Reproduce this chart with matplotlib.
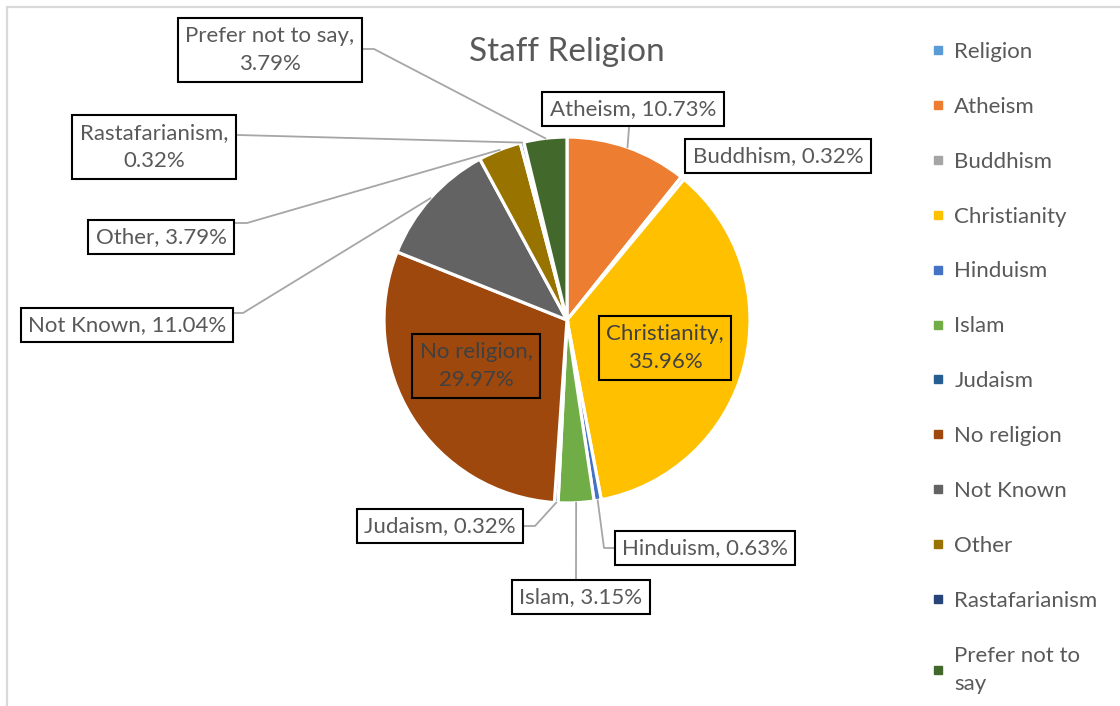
import matplotlib
matplotlib.use('Agg')
import matplotlib.pyplot as plt
from matplotlib.lines import Line2D
import numpy as np

religions = ['Religion', 'Atheism', 'Buddhism', 'Christianity', 'Hinduism', 'Islam',
             'Judaism', 'No religion', 'Not Known', 'Other', 'Rastafarianism',
             'Prefer not to say']
shares = [0, 10.73, 0.32, 35.96, 0.63, 3.15, 0.32, 29.97, 11.04, 3.79, 0.32, 3.79]
colours = ['#5B9BD5', '#ED7D31', '#A5A5A5', '#FFC000', '#4472C4', '#70AD47',
           '#255E91', '#9E480E', '#636363', '#997300', '#264478', '#43682B']

# labels that break after the comma
wrapped = ['Prefer not to say', 'Rastafarianism', 'No religion', 'Christianity']
# labels sitting on top of their own slice
inside = ['No religion', 'Christianity']

W, H = 1120, 706
FONT = 'Lato'
GREY = '#595959'


def Y(y):
    # work in pixels measured from the top-left corner
    return H - y


# label box centre, then the leader route starting at the box
label_at = {
    'Atheism': ((633, 109), [(629, 128)]),
    'Buddhism': ((778, 156), []),
    'Christianity': ((665, 348), []),
    'Hinduism': ((705, 548), [(615, 548), (604, 548)]),
    'Islam': ((581, 597), [(576, 579)]),
    'Judaism': ((440, 526), [(524, 526), (535, 526)]),
    'No religion': ((476, 366), []),
    'Not Known': ((127, 325), [(232, 313), (243, 313)]),
    'Other': ((161, 237), [(235, 223), (247, 223)]),
    'Rastafarianism': ((154, 147), [(238, 135)]),
    'Prefer not to say': ((270, 50), [(363, 49), (374, 49)]),
}

fig = plt.figure(figsize=(W / 100, H / 100), dpi=100)
ax = fig.add_axes([0, 0, 1, 1])

cx, cy, r = 567, 320, 183
wedges, _ = ax.pie(shares, colors=colours, startangle=90, counterclock=False,
                   center=(cx, Y(cy)), radius=r,
                   wedgeprops=dict(edgecolor='white', linewidth=2.3))
ax.set_xlim(0, W)
ax.set_ylim(0, H)
ax.set_aspect('equal')
ax.axis('off')

# chart area border (runs off the right and bottom)
ax.plot([7, 7, W], [0, Y(7), Y(7)], color='#D9D9D9', lw=1.6,
        solid_joinstyle='miter', zorder=0)

ax.text(cx, Y(52), 'Staff Religion', ha='center', va='center',
        fontsize=24, color=GREY, family=FONT)

for w, name, val in zip(wedges, religions, shares):
    if name not in label_at:
        continue
    (tx, ty), route = label_at[name]
    sep = ',\n' if name in wrapped else ', '
    on_slice = name in inside
    ax.text(tx, Y(ty), f'{name}{sep}{val:.2f}%', ha='center', va='center',
            fontsize=16, family=FONT, linespacing=1.55,
            color='#404040' if on_slice else GREY, zorder=5,
            bbox=dict(boxstyle='square,pad=0.33', lw=1.5, ec='black',
                      fc='none' if on_slice else 'white'))
    if route:
        mid = np.deg2rad((w.theta1 + w.theta2) / 2)
        pie_pt = (cx + r * np.cos(mid), Y(cy) + r * np.sin(mid))
        xs = [p[0] for p in route] + [pie_pt[0]]
        ys = [Y(p[1]) for p in route] + [pie_pt[1]]
        ax.plot(xs, ys, color='#A6A6A6', lw=1.3, zorder=4)

handles = [Line2D([], [], ls='', marker='s', ms=6, mfc=c, mec=c) for c in colours]
leg_labels = ['Prefer not to\nsay' if n == 'Prefer not to say' else n for n in religions]
leg = ax.legend(handles, leg_labels, loc='upper left',
                bbox_to_anchor=(921 / W, 1 - 33 / H),
                frameon=False, prop=dict(family=FONT, size=16), labelcolor=GREY,
                handlelength=0.7, handletextpad=0.4, labelspacing=1.57,
                borderaxespad=0)
for t in leg.get_texts():
    t.set_linespacing(1.5)

fig.savefig('out.png', dpi=100)
